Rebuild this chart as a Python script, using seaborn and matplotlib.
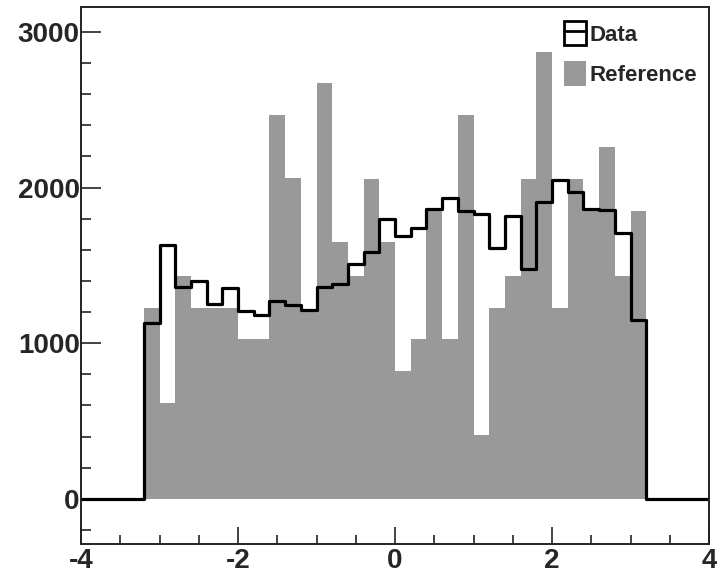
import numpy as np
import pandas as pd
import matplotlib
matplotlib.use("Agg")
import matplotlib.pyplot as plt
from matplotlib.patches import Patch
from matplotlib.lines import Line2D
from matplotlib.ticker import MultipleLocator, FixedLocator
import seaborn as sns

# 40 bins of width 0.2 on [-4, 4]
x_lo, x_hi, n_bins = -4.0, 4.0, 40

data_counts = [0, 0, 0, 0,
               1128, 1631, 1364, 1402, 1250, 1357, 1210, 1180, 1272, 1244,
               1214, 1364, 1379, 1507, 1588, 1796, 1691, 1743, 1865, 1935,
               1850, 1828, 1610, 1818, 1475, 1910, 2049, 1970, 1860, 1855,
               1710, 1150,
               0, 0, 0, 0]

ref_counts = [0, 0, 0, 0,
              1229, 615, 1432, 1229, 1229, 1229, 1026, 1026, 2464, 2060,
              1200, 2670, 1649, 1432, 2055, 1649, 822, 1026, 1850, 1026,
              2464, 411, 1229, 1432, 2055, 2873, 1229, 2055, 1850, 2263,
              1432, 1850,
              0, 0, 0, 0]

x_ticks = [-4, -2, 0, 2, 4]
y_ticks = [0, 1000, 2000, 3000]
legend_labels = ["Data", "Reference"]

sns.set_style("white")
plt.rcParams["font.family"] = ["Liberation Sans", "DejaVu Sans"]
plt.rcParams["font.weight"] = "bold"

edges = np.linspace(x_lo, x_hi, n_bins + 1)
centers = 0.5 * (edges[:-1] + edges[1:])
bin_edges = [float(e) for e in edges]
df = pd.DataFrame({"x": centers, "data": data_counts, "ref": ref_counts})

fig = plt.figure(figsize=(7.17, 5.73), dpi=100)
ax = fig.add_axes([0.113, 0.0506, 0.876, 0.9366])

grey = "#999999"
sns.histplot(data=df, x="x", weights="ref", bins=bin_edges, element="bars",
             fill=True, color=grey, alpha=1.0, linewidth=0, ax=ax)
sns.histplot(data=df, x="x", weights="data", bins=bin_edges, element="step",
             fill=False, color="black", linewidth=2.3, ax=ax)

ax.set_xlim(x_lo, x_hi)
ax.set_ylim(-290, 3158)
ax.set_xlabel("")
ax.set_ylabel("")

ax.xaxis.set_major_locator(FixedLocator(x_ticks))
ax.xaxis.set_minor_locator(MultipleLocator(0.5))
ax.yaxis.set_major_locator(FixedLocator(y_ticks))
ax.yaxis.set_minor_locator(MultipleLocator(200))
ax.set_xticklabels([f"{t:d}" for t in x_ticks])
ax.set_yticklabels([f"{t:d}" for t in y_ticks])

ax.tick_params(axis="both", which="both", direction="in", color="#111111",
               width=1.1, left=True, bottom=True, right=False, top=False)
ax.tick_params(axis="y", which="major", length=14.4, pad=1, labelsize=20)
ax.tick_params(axis="y", which="minor", length=7.2)
ax.tick_params(axis="x", which="major", length=12, pad=3, labelsize=20)
ax.tick_params(axis="x", which="minor", length=6.5)
for lab in ax.get_xticklabels() + ax.get_yticklabels():
    lab.set_fontweight("bold")

for sp in ax.spines.values():
    sp.set_visible(True)
    sp.set_color("#222222")
    sp.set_linewidth(1.4)

data_handle = (Patch(facecolor="white", edgecolor="black", linewidth=2.0),
               Line2D([], [], color="black", linewidth=2.0))
ref_handle = Patch(facecolor=grey, edgecolor="none")
leg = ax.legend([data_handle, ref_handle], legend_labels,
                loc="upper left", bbox_to_anchor=(0.7866, 0.963),
                bbox_transform=fig.transFigure, frameon=False,
                prop={"weight": "bold", "size": 16},
                handlelength=1.0, handleheight=1.3, handletextpad=0.15,
                labelspacing=0.7, borderaxespad=0, borderpad=0)

fig.savefig("out.png", dpi=100)
